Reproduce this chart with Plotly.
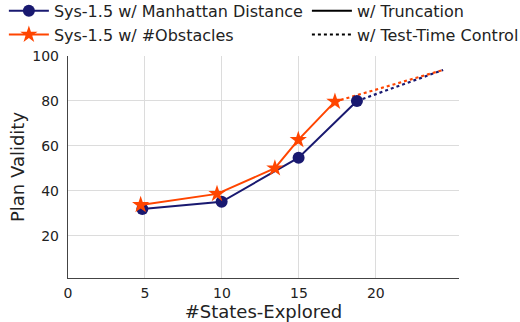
import plotly.graph_objects as go

# Data
man_x = [4.83, 9.98, 14.98, 18.77]
man_y = [32.0, 35.2, 54.8, 80.0]
man_ext_x = [18.77, 24.37]
man_ext_y = [80.0, 93.8]

obs_x = [4.72, 9.68, 13.44, 14.96, 17.34]
obs_y = [33.8, 38.7, 50.1, 62.7, 79.7]
obs_ext_x = [17.34, 24.37]
obs_ext_y = [79.7, 93.8]

x_ticks = [0, 5, 10, 15, 20]
y_ticks = [20, 40, 60, 80, 100]

BLUE = "#191970"
ORANGE = "#FF4500"
FONT = "DejaVu Sans"

fig = go.Figure()

fig.add_trace(go.Scatter(x=man_ext_x, y=man_ext_y, mode="lines",
                         line=dict(color=BLUE, width=2.2, dash="dot"), showlegend=False))
fig.add_trace(go.Scatter(x=obs_ext_x, y=obs_ext_y, mode="lines",
                         line=dict(color=ORANGE, width=2.2, dash="dot"), showlegend=False))
fig.add_trace(go.Scatter(x=man_x, y=man_y, mode="lines+markers", name="Sys-1.5 w/ Manhattan Distance",
                         line=dict(color=BLUE, width=2), marker=dict(symbol="circle", size=12, color=BLUE),
                         legend="legend"))
fig.add_trace(go.Scatter(x=obs_x, y=obs_y, mode="lines+markers", name="Sys-1.5 w/ #Obstacles",
                         line=dict(color=ORANGE, width=2), marker=dict(symbol="star", size=13, color=ORANGE),
                         legend="legend"))
fig.add_trace(go.Scatter(x=[None], y=[None], mode="lines", name="w/ Truncation",
                         line=dict(color="black", width=2), legend="legend2"))
fig.add_trace(go.Scatter(x=[None], y=[None], mode="lines", name="w/ Test-Time Control",
                         line=dict(color="black", width=2, dash="dot"), legend="legend2"))

fig.update_layout(
    width=520, height=322,
    margin=dict(l=68, r=61, t=56, b=44, autoexpand=False),
    plot_bgcolor="white", paper_bgcolor="white",
    font=dict(family=FONT, size=14, color="#222222"),
    legend=dict(x=-0.164, y=1.28, xanchor="left", yanchor="top", bgcolor="rgba(0,0,0,0)",
                font=dict(size=16), tracegroupgap=0, itemwidth=40),
    legend2=dict(x=0.611, y=1.28, xanchor="left", yanchor="top", bgcolor="rgba(0,0,0,0)",
                 font=dict(size=16), tracegroupgap=0, itemwidth=40),
    xaxis=dict(range=[0, 25.4], tickvals=x_ticks, ticktext=[str(v) for v in x_ticks],
               showgrid=True, gridcolor="#dcdcdc", gridwidth=1, zeroline=False,
               showline=True, linecolor="#444444", linewidth=1.4, ticks="",
               ticklabelstandoff=2,
               title=dict(text="#States-Explored", font=dict(size=18), standoff=5),
               tickfont=dict(size=14)),
    yaxis=dict(range=[1.3, 100], tickvals=y_ticks, ticktext=[str(v) for v in y_ticks],
               showgrid=True, gridcolor="#dcdcdc", gridwidth=1, zeroline=False,
               showline=True, linecolor="#444444", linewidth=1.4, ticks="",
               ticklabelstandoff=5,
               title=dict(text="Plan Validity", font=dict(size=18), standoff=2),
               tickfont=dict(size=14)),
)

fig.write_html("out.html", config={"displayModeBar": False},
               post_script="document.body.style.margin='0';")
